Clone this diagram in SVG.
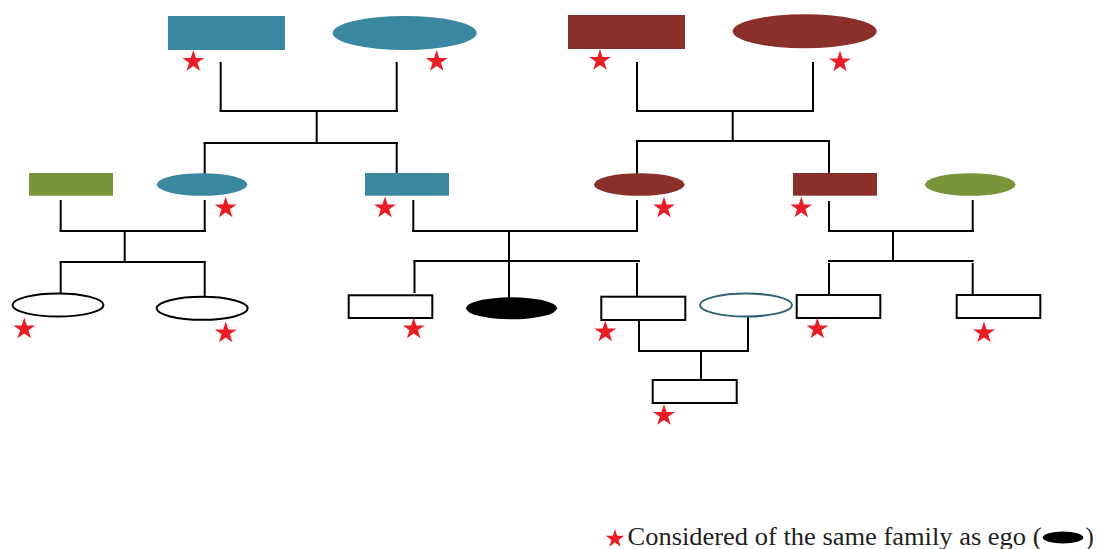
<svg xmlns="http://www.w3.org/2000/svg" xmlns:xlink="http://www.w3.org/1999/xlink" width="1097" height="549" viewBox="0 0 1097 549">
<style>
.teal{fill:#3A889F}
.red{fill:#8B2F2B}
.green{fill:#7A9539}
.out{fill:#fff;stroke:#000;stroke-width:2}
.ego{fill:#000}
.star{fill:#ED1C24}
.conn line{stroke:#000;stroke-width:2;stroke-linecap:square}
.legend{font-family:"Liberation Serif","Times New Roman",serif;font-size:25px;fill:#231F20}
</style>
<defs>
<polygon id="star" points="0,-11.5 2.58,-3.55 10.94,-3.55 4.18,1.36 6.76,9.3 0,4.39 -6.76,9.3 -4.18,1.36 -10.94,-3.55 -2.58,-3.55"/>
</defs>
<rect width="1097" height="549" fill="#fff"/>
<g id="connectors" class="conn">
<line x1="220.7" y1="63" x2="220.7" y2="111"/>
<line x1="396.7" y1="63" x2="396.7" y2="111"/>
<line x1="220.7" y1="111" x2="396.7" y2="111"/>
<line x1="316.7" y1="111" x2="316.7" y2="143"/>
<line x1="204.7" y1="143" x2="396.7" y2="143"/>
<line x1="204.7" y1="143" x2="204.7" y2="173"/>
<line x1="396.7" y1="143" x2="396.7" y2="173"/>
<line x1="637" y1="63" x2="637" y2="111"/>
<line x1="813" y1="63" x2="813" y2="111"/>
<line x1="637" y1="111" x2="813" y2="111"/>
<line x1="732.7" y1="111" x2="732.7" y2="141"/>
<line x1="637" y1="141" x2="829" y2="141"/>
<line x1="637" y1="141" x2="637" y2="173"/>
<line x1="829" y1="141" x2="829" y2="173"/>
<line x1="60.7" y1="201" x2="60.7" y2="231"/>
<line x1="204.7" y1="201" x2="204.7" y2="231"/>
<line x1="60.7" y1="231" x2="204.7" y2="231"/>
<line x1="124.7" y1="231" x2="124.7" y2="262"/>
<line x1="60.7" y1="262" x2="204.7" y2="262"/>
<line x1="60.7" y1="262" x2="60.7" y2="292"/>
<line x1="204.7" y1="262" x2="204.7" y2="295"/>
<line x1="413.3" y1="201" x2="413.3" y2="231"/>
<line x1="637" y1="201" x2="637" y2="231"/>
<line x1="413.3" y1="231" x2="637" y2="231"/>
<line x1="509" y1="231" x2="509" y2="298"/>
<line x1="414.5" y1="261" x2="639" y2="261"/>
<line x1="414.5" y1="261" x2="414.5" y2="292"/>
<line x1="637" y1="264" x2="637" y2="297"/>
<line x1="639" y1="318" x2="639" y2="351"/>
<line x1="748" y1="317" x2="748" y2="351"/>
<line x1="639" y1="351" x2="748" y2="351"/>
<line x1="701" y1="351" x2="701" y2="380"/>
<line x1="829" y1="202" x2="829" y2="231"/>
<line x1="972.7" y1="201" x2="972.7" y2="231"/>
<line x1="829" y1="231" x2="972.7" y2="231"/>
<line x1="893" y1="231" x2="893" y2="261"/>
<line x1="829" y1="261" x2="972.7" y2="261"/>
<line x1="829" y1="264" x2="829" y2="296"/>
<line x1="972.7" y1="264" x2="972.7" y2="294"/>
</g>
<g id="gp1"><rect class="teal" x="168" y="16" width="117" height="34"/><use href="#star" class="star" x="193.3" y="61.5"/></g>
<g id="gp2"><ellipse class="teal" cx="404.7" cy="33" rx="72" ry="17"/><use href="#star" class="star" x="436.7" y="61.5"/></g>
<g id="gp3"><rect class="red" x="568" y="15" width="117" height="34"/><use href="#star" class="star" x="600" y="60.5"/></g>
<g id="gp4"><ellipse class="red" cx="804.7" cy="31.2" rx="72" ry="17"/><use href="#star" class="star" x="840" y="62"/></g>
<g id="p1"><rect class="green" x="29" y="173" width="84" height="22.7"/></g>
<g id="p2"><ellipse class="teal" cx="202" cy="184.5" rx="45.3" ry="11.3"/><use href="#star" class="star" x="225.7" y="208"/></g>
<g id="p3"><rect class="teal" x="365" y="173" width="84" height="22.7"/><use href="#star" class="star" x="385" y="208"/></g>
<g id="p4"><ellipse class="red" cx="639.3" cy="184.5" rx="45.3" ry="11.3"/><use href="#star" class="star" x="664" y="208"/></g>
<g id="p5"><rect class="red" x="793" y="173" width="84" height="22.7"/><use href="#star" class="star" x="801.3" y="208"/></g>
<g id="p6"><ellipse class="green" cx="970.3" cy="184.5" rx="45.3" ry="11.3"/></g>
<g id="c1"><ellipse class="out" cx="58" cy="305" rx="45.5" ry="11.5"/><use href="#star" class="star" x="24.3" y="329"/></g>
<g id="c2"><ellipse class="out" cx="202.2" cy="308.3" rx="45.5" ry="11.5"/><use href="#star" class="star" x="225.7" y="333"/></g>
<g id="c3"><rect class="out" x="348.7" y="295.3" width="83.6" height="22.7"/><use href="#star" class="star" x="413.7" y="329"/></g>
<g id="ego"><ellipse class="ego" cx="511.5" cy="308.3" rx="45.5" ry="11"/></g>
<g id="c4"><rect class="out" x="601.3" y="296.7" width="84" height="23.3"/><use href="#star" class="star" x="605.3" y="332"/></g>
<g id="spouse"><ellipse cx="746" cy="305" rx="46" ry="11.5" fill="#fff" stroke="#2D6373" stroke-width="2"/></g>
<g id="c5"><rect class="out" x="796.7" y="295" width="83.6" height="23"/><use href="#star" class="star" x="817.3" y="329"/></g>
<g id="c6"><rect class="out" x="956.7" y="295" width="83.6" height="23"/><use href="#star" class="star" x="984" y="333"/></g>
<g id="gc1"><rect class="out" x="652.7" y="380" width="84" height="23"/><use href="#star" class="star" x="664" y="415.5"/></g>
<g id="legend">
<use href="#star" class="star" transform="translate(615 538.8) scale(0.85)"/>
<text class="legend" x="627.5" y="545" textLength="414" lengthAdjust="spacingAndGlyphs">Considered of the same family as ego (</text>
<ellipse class="ego" cx="1063" cy="537.5" rx="20.3" ry="6"/>
<text class="legend" x="1085.5" y="545">)</text>
</g>
</svg>
